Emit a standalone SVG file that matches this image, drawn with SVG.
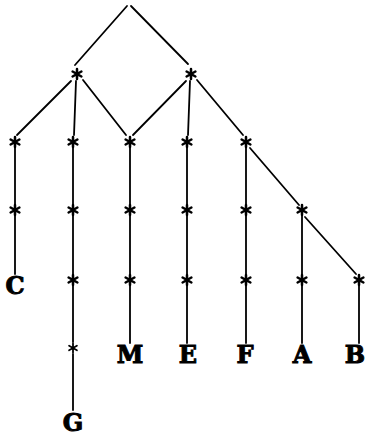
<svg xmlns="http://www.w3.org/2000/svg" width="366" height="437" viewBox="0 0 366 437">
<style>
.e{stroke:#000;stroke-width:1.8;fill:none;stroke-linecap:round}
.lbl{font-family:"DejaVu Serif","Liberation Serif",serif;font-weight:bold;font-size:24px;fill:#000;stroke:#000;stroke-width:1;text-anchor:middle}
</style>
<defs>
<g id="st"><path d="M0,-5V5M-4.4,-2.5L4.4,2.5M-4.4,2.5L4.4,-2.5" stroke="#000" stroke-width="2.5" stroke-linecap="round"/><circle r="2.2" fill="#000"/></g>
<g id="sm"><path d="M0,-4.5V4.5M-3.9,-2.2L3.9,2.2M-3.9,2.2L3.9,-2.2" stroke="#000" stroke-width="1.8" stroke-linecap="round"/></g>
</defs>
<rect width="366" height="437" fill="#fff"/>
<g id="connectors">
<path class="e" d="M75,65L127,6M131,6L188,64"/>
<path class="e" d="M71,81L17,135M76,81L74,135M83,80L126,135"/>
<path class="e" d="M186,81L133,135M190,81L188,135M197,80L243,135"/>
<path class="e" d="M250,148L299,205M305,217L356,274"/>
<path class="e" d="M15,148V204M15,216V274"/>
<path class="e" d="M73,148V204M73,216V274M73,286V342M73,354V410"/>
<path class="e" d="M130,148V204M130,216V274M130,286V343"/>
<path class="e" d="M187,148V204M187,216V274M187,286V343"/>
<path class="e" d="M246,148V204M246,216V274M246,286V343"/>
<path class="e" d="M302,216V274M302,286V343"/>
<path class="e" d="M359,286V343"/>
</g>
<g id="n-l1a"><use href="#st" x="77" y="74"/></g>
<g id="n-l1b"><use href="#st" x="191" y="74"/></g>
<g id="n-c1"><use href="#st" x="15" y="142"/><use href="#st" x="15" y="210"/></g>
<g id="n-c2"><use href="#st" x="73" y="142"/><use href="#st" x="73" y="210"/><use href="#st" x="73" y="280"/><use href="#sm" x="73" y="348"/></g>
<g id="n-c3"><use href="#st" x="130" y="142"/><use href="#st" x="130" y="210"/><use href="#st" x="130" y="280"/></g>
<g id="n-c4"><use href="#st" x="187" y="142"/><use href="#st" x="187" y="210"/><use href="#st" x="187" y="280"/></g>
<g id="n-c5"><use href="#st" x="246" y="142"/><use href="#st" x="246" y="210"/><use href="#st" x="246" y="280"/></g>
<g id="n-c6"><use href="#st" x="302" y="210"/><use href="#st" x="302" y="280"/></g>
<g id="n-c7"><use href="#st" x="359" y="280"/></g>
<g id="n-C"><text class="lbl" x="15" y="294">C</text></g>
<g id="n-G"><text class="lbl" x="73" y="431">G</text></g>
<g id="n-M"><text class="lbl" x="130" y="363">M</text></g>
<g id="n-E"><text class="lbl" x="188" y="363">E</text></g>
<g id="n-F"><text class="lbl" x="245" y="363">F</text></g>
<g id="n-A"><text class="lbl" x="302" y="363">A</text></g>
<g id="n-B"><text class="lbl" x="355" y="363">B</text></g>
</svg>
